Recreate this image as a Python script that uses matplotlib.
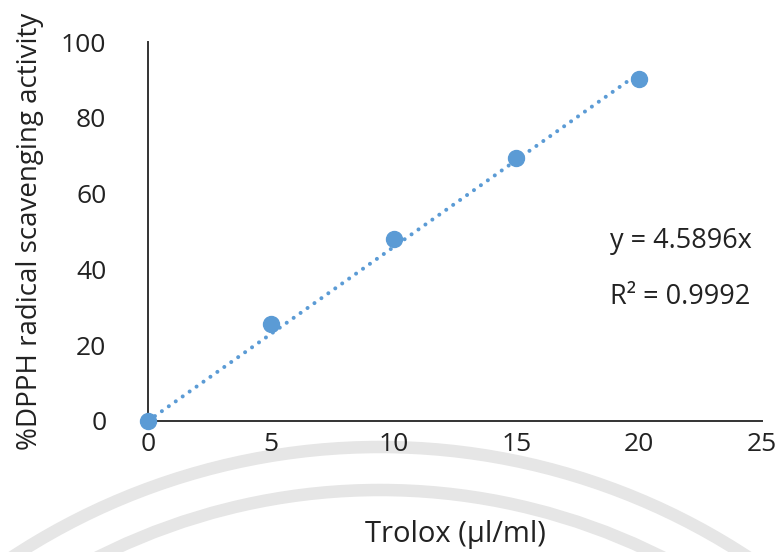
import numpy as np
import matplotlib
matplotlib.use('Agg')
import matplotlib.pyplot as plt
from matplotlib.patches import Arc

# datos
trolox = [0, 5, 10, 15, 20]
actividad = [0, 25.5, 47.9, 69.5, 90.3]
pendiente = 4.5896
r2 = 0.9992
xticks = [0, 5, 10, 15, 20, 25]
yticks = [0, 20, 40, 60, 80, 100]

azul = '#5B9BD5'
plt.rcParams['font.family'] = ['Open Sans', 'DejaVu Sans']

fig = plt.figure(figsize=(7.78, 5.52), dpi=100)

# marca de agua (arcos grises al fondo)
fondo = fig.add_axes([0, 0, 1, 1], zorder=0)
fondo.set_xlim(0, 778)
fondo.set_ylim(552, 0)
fondo.axis('off')
for rad in (670, 627):
    fondo.add_patch(Arc((380, 1117), 2 * rad, 2 * rad, theta1=180, theta2=360,
                        color='#e6e6e6', lw=9))

ax = fig.add_axes([148/778, 1 - 421/552, 614/778, 379/552], zorder=1)
ax.patch.set_alpha(0)

xs = np.array([0, 20])
ax.plot(xs, pendiente * xs, color=azul, lw=2.9, dashes=(0.01, 2.1),
        dash_capstyle='round', zorder=2, clip_on=False)
ax.plot(trolox, actividad, 'o', color=azul, ms=11.5, zorder=3, clip_on=False)

ax.set_xlim(0, 25)
ax.set_ylim(0, 100)
ax.set_xticks(xticks)
ax.set_yticks(yticks)
ax.tick_params(length=0, labelsize=19, colors='#222222')
ax.tick_params(axis='y', pad=30)
ax.tick_params(axis='x', pad=8)
for s in ('top', 'right'):
    ax.spines[s].set_visible(False)
for s in ('left', 'bottom'):
    ax.spines[s].set_color('#333333')
    ax.spines[s].set_linewidth(1.4)

ax.set_xlabel('Trolox (µl/ml)', fontsize=21, color='#222222', labelpad=45)
ax.set_ylabel('%DPPH radical scavenging activity', fontsize=20,
              color='#222222', labelpad=12)

ax.annotate('y = %.4fx' % pendiente, xy=(610, 552 - 241), xycoords='figure pixels',
            fontsize=19.5, va='center', color='#222222')
ax.annotate('R² = %.4f' % r2, xy=(610, 552 - 297), xycoords='figure pixels',
            fontsize=19.5, va='center', color='#222222')

fig.savefig('out.png', dpi=100)
